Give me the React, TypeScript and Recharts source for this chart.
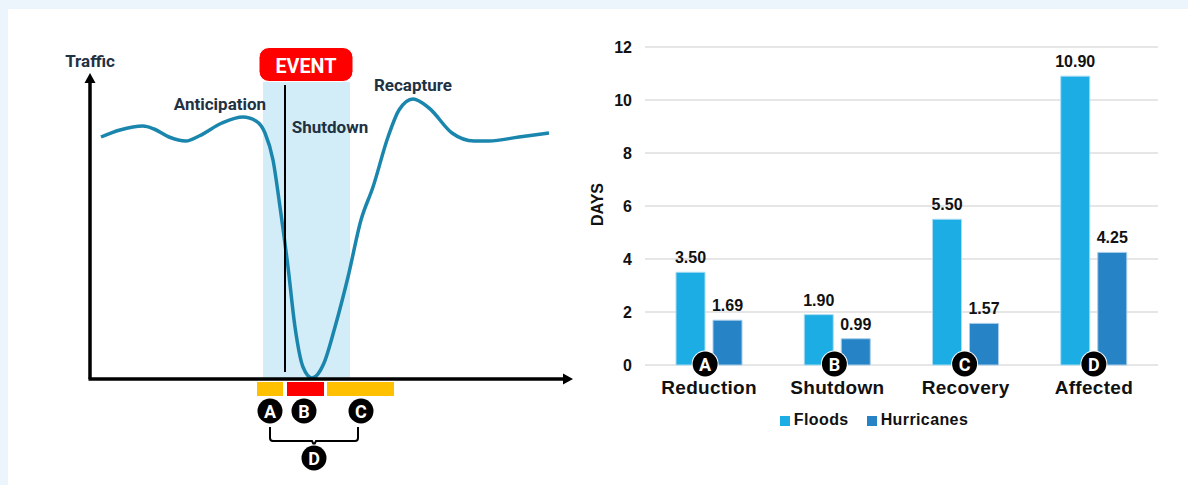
import { Bar, BarChart, CartesianGrid, LabelList, Legend, Line, LineChart, ReferenceArea, ReferenceDot, ReferenceLine, XAxis, YAxis } from "recharts";

// left sketch: time and traffic in plot units
const trafficTime = [11, 30, 53, 64, 79, 96, 109, 132, 153, 166, 175, 183, 190, 198, 205, 213, 222, 234, 245, 258, 271, 283, 298, 309, 323, 339, 362, 384, 399, 429, 459];
const trafficLevel = [242, 249, 253, 250, 242, 238, 243, 256, 262, 258, 246, 219, 172, 112, 52, 12, 1, 16, 52, 102, 159, 192, 242, 269, 280, 271, 246, 238, 238, 242, 246];
const trafficData = trafficTime.map((time, i) => ({ time, level: trafficLevel[i] }));

const sketchLabels = [
	{ text: "Traffic", x: 0, y: 312 },
	{ text: "Anticipation", x: 130, y: 269 },
	{ text: "Shutdown", x: 240, y: 246 },
	{ text: "Recapture", x: 323, y: 288 },
];
const sketchBadges = [
	{ id: "A", x: 180, y: -32 },
	{ id: "B", x: 214, y: -32 },
	{ id: "C", x: 271, y: -32 },
	{ id: "D", x: 224, y: -79 },
];

// right chart
const categories = ["Reduction", "Shutdown", "Recovery", "Affected"];
const floods = [3.5, 1.9, 5.5, 10.9];
const hurricanes = [1.69, 0.99, 1.57, 4.25];
const badges = ["A", "B", "C", "D"];
const badgeShift = [-4, -3, -1, 0];
const yTicks = [0, 2, 4, 6, 8, 10, 12];
const barData = categories.map((name, i) => ({ name, Floods: floods[i], Hurricanes: hurricanes[i] }));

const sans = "'Liberation Sans', Arial, sans-serif";
const narrow = "Roboto, sans-serif";

function Badge({ cx, cy, id, shift = 0, lift = 0 }: any) {
	return (
		<g transform={`translate(${shift} ${-lift})`}>
			<circle cx={cx} cy={cy} r={13.5} fill="#fff" />
			<circle cx={cx} cy={cy} r={12.5} fill="#000" />
			<text x={cx} y={cy + 6.5} fill="#fff" fontFamily={narrow} fontSize={18} fontWeight={700} textAnchor="middle">
				{id}
			</text>
		</g>
	);
}

function SketchText({ cx, cy, text }: any) {
	return (
		<text x={cx} y={cy} fill="#1f3244" fontFamily={narrow} fontSize={17} fontWeight={700} textAnchor="middle">
			{text}
		</text>
	);
}

function EventBox({ cx, cy }: any) {
	return (
		<g>
			<rect x={cx - 47} y={cy - 17} width={94} height={34} rx={10} fill="#ff0000" stroke="#fff" />
			<text x={cx} y={cy + 8} fill="#fff" fontFamily={narrow} fontSize={21} fontWeight={700} textAnchor="middle" textLength={61} lengthAdjust="spacingAndGlyphs">
				EVENT
			</text>
		</g>
	);
}

function Brace({ cx, cy }: any) {
	return (
		<path
			d={`M${cx - 44} ${cy - 14} V${cy - 3} Q${cx - 44} ${cy} ${cx - 41} ${cy} H${cx - 2} L${cx} ${cy + 4} L${cx + 2} ${cy} H${cx + 41} Q${cx + 44} ${cy} ${cx + 44} ${cy - 3} V${cy - 14}`}
			fill="none"
			stroke="#000"
			strokeWidth={2}
		/>
	);
}

function ArrowUp({ cx, cy }: any) {
	return <path d={`M${cx} ${cy - 10} L${cx + 5.5} ${cy} H${cx - 5.5} Z`} fill="#000" />;
}

function ArrowRight({ cx, cy }: any) {
	return <path d={`M${cx + 10} ${cy} L${cx} ${cy + 5.5} V${cy - 5.5} Z`} fill="#000" />;
}

function BigTick({ x, y, payload }: any) {
	return (
		<text x={x} y={y + 21} fill="#111" fontFamily={sans} fontSize={19} fontWeight={700} letterSpacing={0.3} textAnchor="middle">
			{payload.value}
		</text>
	);
}

function Sketch() {
	return (
		<LineChart width={590} height={476} data={trafficData} margin={{ top: 76, right: 20, bottom: 106, left: 90 }}>
			<XAxis dataKey="time" type="number" domain={[0, 480]} hide />
			<YAxis type="number" domain={[0, 294]} hide />
			<ReferenceArea x1={173} x2={260} y1={0} y2={297} ifOverflow="visible" fill="#d2edf8" fillOpacity={1} stroke="none" />
			<Line dataKey="level" type="monotone" stroke="#1a86ad" strokeWidth={3.5} dot={false} isAnimationActive={false} />
			<ReferenceLine segment={[{ x: 195, y: 7 }, { x: 195, y: 294 }]} stroke="#000" strokeWidth={2} ifOverflow="visible" />
			<ReferenceLine segment={[{ x: -1.5, y: 0 }, { x: 475, y: 0 }]} stroke="#000" strokeWidth={3.5} ifOverflow="visible" />
			<ReferenceLine segment={[{ x: 0, y: 0 }, { x: 0, y: 296 }]} stroke="#000" strokeWidth={3.5} ifOverflow="visible" />
			<ReferenceDot x={0} y={296} ifOverflow="visible" shape={<ArrowUp />} />
			<ReferenceDot x={473} y={0} ifOverflow="visible" shape={<ArrowRight />} />
			<ReferenceArea x1={167} x2={193} y1={-17} y2={-3} ifOverflow="visible" fill="#ffc000" fillOpacity={1} stroke="none" />
			<ReferenceArea x1={197} x2={234} y1={-17} y2={-3} ifOverflow="visible" fill="#ff0000" fillOpacity={1} stroke="none" />
			<ReferenceArea x1={237} x2={304} y1={-17} y2={-3} ifOverflow="visible" fill="#ffc000" fillOpacity={1} stroke="none" />
			<ReferenceDot x={216} y={314.5} ifOverflow="visible" shape={<EventBox />} />
			<ReferenceDot x={224} y={-62} ifOverflow="visible" shape={<Brace />} />
			{sketchLabels.map((l) => (
				<ReferenceDot key={l.text} x={l.x} y={l.y} ifOverflow="visible" shape={<SketchText text={l.text} />} />
			))}
			{sketchBadges.map((b) => (
				<ReferenceDot key={b.id} x={b.x} y={b.y} ifOverflow="visible" shape={<Badge id={b.id} />} />
			))}
		</LineChart>
	);
}

function Bars() {
	return (
		<BarChart width={600} height={476} data={barData} barSize={29} barGap={8} margin={{ top: 38, right: 30, bottom: 66, left: 0 }}>
			<CartesianGrid vertical={false} stroke="#e6e6e6" strokeWidth={2} />
			<XAxis dataKey="name" axisLine={false} tickLine={false} tick={<BigTick />} interval={0} height={30} />
			<YAxis
				domain={[0, 12]}
				ticks={yTicks}
				width={57}
				axisLine={false}
				tickLine={false}
				tickSize={0}
				tickMargin={13}
				tick={{ fill: "#111", fontFamily: sans, fontSize: 16, fontWeight: 700 }}
				label={{ value: "DAYS", angle: -90, position: "insideLeft", dx: 4, dy: 20, fill: "#111", fontFamily: sans, fontSize: 16, fontWeight: 700 }}
			/>
			<Legend
				verticalAlign="bottom"
				iconType="square"
				iconSize={10}
				height={24}
				wrapperStyle={{ fontFamily: sans, fontSize: 16, fontWeight: 700, letterSpacing: 0.4, left: 188, width: 214, bottom: 50 }}
				formatter={(value) => <span style={{ color: "#111", marginRight: 8 }}>{value}</span>}
			/>
			<Bar dataKey="Floods" fill="#1cade4" stroke="#a8dcf2" isAnimationActive={false}>
				<LabelList dataKey="Floods" position="top" offset={9} formatter={(v: any) => Number(v).toFixed(2)} fill="#111" fontFamily={sans} fontSize={16} fontWeight={700} />
			</Bar>
			<Bar dataKey="Hurricanes" fill="#2683c6" stroke="#a9cde8" isAnimationActive={false}>
				<LabelList dataKey="Hurricanes" position="top" offset={9} formatter={(v: any) => Number(v).toFixed(2)} fill="#111" fontFamily={sans} fontSize={16} fontWeight={700} />
			</Bar>
			{categories.map((c, i) => (
				<ReferenceDot key={c} x={c} y={0} ifOverflow="visible" shape={<Badge id={badges[i]} shift={badgeShift[i]} lift={1} />} />
			))}
		</BarChart>
	);
}

export default function App() {
	return (
		<div style={{ position: "absolute", left: 0, top: 0, width: 1188, height: 485, background: "#edf5fc", overflow: "hidden" }}>
			<div style={{ position: "absolute", left: 8, top: 9, width: 1180, height: 476, background: "#fff" }} />
			<div style={{ position: "absolute", left: 0, top: 9 }}>
				<Sketch />
			</div>
			<div style={{ position: "absolute", left: 588, top: 9 }}>
				<Bars />
			</div>
		</div>
	);
}
